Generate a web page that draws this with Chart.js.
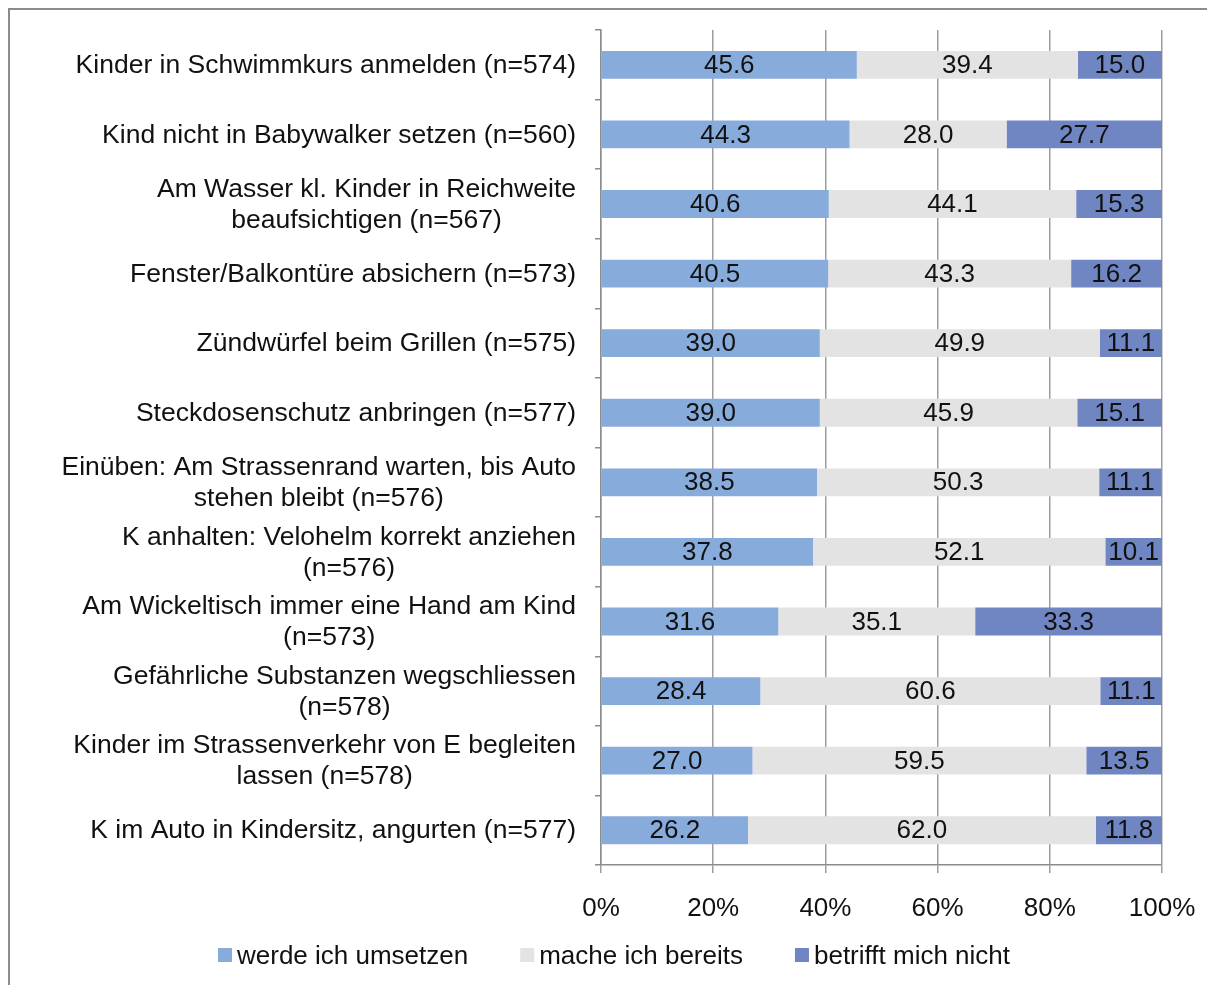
<!DOCTYPE html>
<html>
<head>
<meta charset="utf-8">
<script src="https://cdn.jsdelivr.net/npm/chart.js@4.4.1/dist/chart.umd.min.js"></script>
<style>
  html, body { margin: 0; padding: 0; background: #fff; }
  #frame { position: absolute; left: 8px; top: 8px; width: 1220px; height: 1000px;
           border-left: 2px solid #8c8c8c; border-top: 2px solid #8c8c8c; }
  #wrap { position: absolute; left: 0; top: 0; width: 1207px; height: 985px; }
</style>
</head>
<body>
<div id="frame"></div>
<div id="wrap"><canvas id="chart" width="1207" height="985"></canvas></div>
<script>
const categories = [
  "Kinder in Schwimmkurs anmelden (n=574)",
  "Kind nicht in Babywalker setzen (n=560)",
  ["Am Wasser kl. Kinder in Reichweite", "beaufsichtigen (n=567)"],
  "Fenster/Balkontüre absichern (n=573)",
  "Zündwürfel beim Grillen (n=575)",
  "Steckdosenschutz anbringen (n=577)",
  ["Einüben: Am Strassenrand warten, bis Auto", "stehen bleibt (n=576)"],
  ["K anhalten: Velohelm korrekt anziehen", "(n=576)"],
  ["Am Wickeltisch immer eine Hand am Kind", "(n=573)"],
  ["Gefährliche Substanzen wegschliessen", "(n=578)"],
  ["Kinder im Strassenverkehr von E begleiten", "lassen (n=578)"],
  "K im Auto in Kindersitz, angurten (n=577)"
];
const seriesNames = ["werde ich umsetzen", "mache ich bereits", "betrifft mich nicht"];
const werdeUmsetzen = [45.6, 44.3, 40.6, 40.5, 39.0, 39.0, 38.5, 37.8, 31.6, 28.4, 27.0, 26.2];
const macheBereits = [39.4, 28.0, 44.1, 43.3, 49.9, 45.9, 50.3, 52.1, 35.1, 60.6, 59.5, 62.0];
const betrifftNicht = [15.0, 27.7, 15.3, 16.2, 11.1, 15.1, 11.1, 10.1, 33.3, 11.1, 13.5, 11.8];
const xTicks = [0, 20, 40, 60, 80, 100];
const colors = ["#87abdb", "#e3e3e3", "#6f86c2"];

const FONT = "'Liberation Sans', Arial, Helvetica, sans-serif";
const FONT_SIZE = 26;

// value labels centred in each segment
const segmentLabels = {
  id: "segmentLabels",
  afterDatasetsDraw(chart) {
    const ctx = chart.ctx;
    ctx.save();
    ctx.font = FONT_SIZE + "px " + FONT;
    ctx.fillStyle = "#111";
    ctx.textAlign = "center";
    ctx.textBaseline = "middle";
    chart.data.datasets.forEach((ds, di) => {
      chart.getDatasetMeta(di).data.forEach((bar, i) => {
        const left = Math.min(bar.x, bar.base);
        const right = Math.max(bar.x, bar.base);
        ctx.fillText(ds.data[i].toFixed(1), (left + right) / 2, bar.y + 1);
      });
    });
    ctx.restore();
  }
};

// category labels: block right aligned, lines centred within the block
const categoryLabels = {
  id: "categoryLabels",
  afterDraw(chart) {
    const ctx = chart.ctx;
    const yScale = chart.scales.y;
    const rightEdge = yScale.right - 25;
    const stretch = 1.02;
    ctx.save();
    ctx.font = FONT_SIZE + "px " + FONT;
    ctx.fillStyle = "#111";
    ctx.textAlign = "center";
    ctx.textBaseline = "middle";
    categories.forEach((lab, i) => {
      const lines = Array.isArray(lab) ? lab : [lab];
      const widest = Math.max(...lines.map((l) => ctx.measureText(l).width)) * stretch;
      const cx = rightEdge - widest / 2;
      const y = yScale.getPixelForValue(i);
      const lh = 31;
      lines.forEach((l, k) => {
        ctx.save();
        ctx.translate(cx, y + 1 + (k - (lines.length - 1) / 2) * lh);
        ctx.scale(stretch, 1);
        ctx.fillText(l, 0, 0);
        ctx.restore();
      });
    });
    ctx.restore();
  }
};

// legend row under the axis
const legendRow = {
  id: "legendRow",
  afterDraw(chart) {
    const ctx = chart.ctx;
    const box = 14, gapText = 5, gapItem = 52;
    ctx.save();
    ctx.font = FONT_SIZE + "px " + FONT;
    ctx.textBaseline = "middle";
    ctx.textAlign = "left";
    const items = chart.data.datasets.map((ds) => ({
      text: ds.label, color: ds.backgroundColor, w: ctx.measureText(ds.label).width
    }));
    const total = items.reduce((s, it) => s + box + gapText + it.w, 0) + gapItem * (items.length - 1);
    const cy = chart.chartArea.bottom + 91;
    let x = 614 - total / 2;
    items.forEach((it) => {
      ctx.fillStyle = it.color;
      ctx.fillRect(x, cy - 8, box, box);
      ctx.fillStyle = "#111";
      ctx.fillText(it.text, x + box + gapText, cy + 1);
      x += box + gapText + it.w + gapItem;
    });
    ctx.restore();
  }
};

const ctx = document.getElementById("chart").getContext("2d");
new Chart(ctx, {
  type: "bar",
  data: {
    labels: categories,
    datasets: [
      { label: seriesNames[0], data: werdeUmsetzen, backgroundColor: colors[0] },
      { label: seriesNames[1], data: macheBereits, backgroundColor: colors[1] },
      { label: seriesNames[2], data: betrifftNicht, backgroundColor: colors[2] }
    ]
  },
  options: {
    indexAxis: "y",
    responsive: false,
    animation: false,
    devicePixelRatio: 1,
    layout: { padding: { top: 30, right: 45, bottom: 65, left: 0 } },
    datasets: { bar: { barPercentage: 0.4, categoryPercentage: 1 } },
    scales: {
      x: {
        stacked: true,
        min: 0,
        max: 100,
        z: 1,
        afterBuildTicks: (scale) => { scale.ticks = xTicks.map((v) => ({ value: v })); },
        afterFit: (scale) => {
          scale.height = 55;
          scale.paddingLeft = 0;
          scale.paddingRight = 0;
        },
        ticks: {
          callback: (v) => v + "%",
          font: { family: FONT, size: FONT_SIZE },
          color: "#111",
          padding: 20,
          maxRotation: 0
        },
        grid: { color: "rgba(105,105,105,0.65)", lineWidth: 1.5, tickLength: 8 },
        border: { display: true, color: "#8c8c8c", width: 1.5 }
      },
      y: {
        stacked: true,
        afterFit: (scale) => { scale.width = 601; },
        ticks: { display: false },
        grid: { drawOnChartArea: false, color: "#8c8c8c", lineWidth: 1.5, tickLength: 6, offset: true },
        border: { color: "#8c8c8c", width: 1.5 }
      }
    },
    plugins: {
      legend: { display: false },
      tooltip: { enabled: false }
    }
  },
  plugins: [segmentLabels, categoryLabels, legendRow]
});
</script>
</body>
</html>
